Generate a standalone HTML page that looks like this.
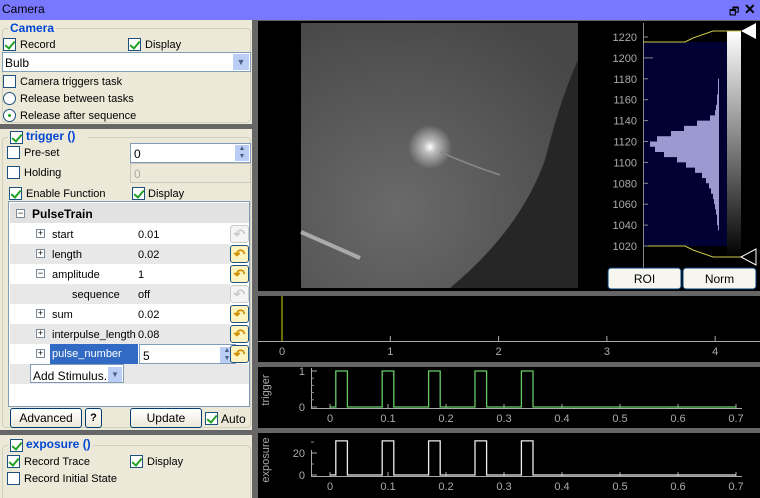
<!DOCTYPE html>
<html><head><meta charset="utf-8">
<style>
*{box-sizing:border-box;margin:0;padding:0}
html,body{width:760px;height:498px;overflow:hidden}
body{background:#ece9d8;font-family:"Liberation Sans",sans-serif;font-size:11px;color:#000;position:relative}
.a{position:absolute}
.cb{position:absolute;width:13px;height:13px;border:1px solid #1c5180;background:#fff}
.cb.on::after{content:"";position:absolute;left:3px;top:0px;width:4px;height:8px;border:solid #21a121;border-width:0 2px 2px 0;transform:rotate(40deg)}
.rd{position:absolute;width:13px;height:13px;border:1px solid #1c5180;border-radius:50%;background:#fff}
.lbl{position:absolute;white-space:nowrap;line-height:13px;margin-top:1px}
.btn{position:absolute;border:1px solid #003c74;border-radius:3px;background:linear-gradient(#fff,#ece9d8);text-align:center;line-height:18px}
.grp{position:absolute;color:#0046d5;font-weight:bold;font-size:12px;background:#ece9d8;padding:0 2px}
.sep{position:absolute;background:#666}
.row{position:absolute;left:10px;width:220px;height:20px}
.row span{margin-top:1px}
.pm{position:absolute;width:9px;height:9px;border:1px solid #7a8a99;background:#fff;font-size:9px;line-height:7px;text-align:center}
.rst{position:absolute;left:230px;width:19px;height:18px;border:1px solid #1c5180;border-radius:3px;background:#fff3c0;color:#d09000;font-size:14px;line-height:16px;text-align:center;font-weight:bold}
.rst.off{color:#ccc;border-color:#ccc;background:#f4f4f4}
</style></head><body>
<div class="a" style="left:0;top:0;width:760px;height:20px;background:#7878ff">
 <span class="a" style="left:2px;top:2px;font-size:12px">Camera</span>
 <span class="a" style="left:729px;top:3px;font-size:11px">🗗</span>
 <span class="a" style="left:744px;top:1px;font-size:14px;font-weight:bold">✕</span>
</div>
<div class="sep" style="left:252px;top:20px;width:6px;height:478px"></div>

<div class="a" style="left:2px;top:28px;width:249px;height:95px;border:1px solid #d0d0bf;border-radius:4px"></div>
<div class="grp" style="left:8px;top:21px">Camera</div>
<div class="cb on" style="left:3px;top:38px"></div><div class="lbl" style="left:20px;top:38px">Record</div>
<div class="cb on" style="left:128px;top:38px"></div><div class="lbl" style="left:145px;top:38px">Display</div>
<div class="a" style="left:2px;top:52px;width:249px;height:20px;border:1px solid #7f9db9;background:#fff"><span class="a" style="left:2px;top:3px;font-size:12px">Bulb</span><span class="a" style="right:1px;top:1px;width:16px;height:16px;background:#b9cdf5;color:#4d6185;text-align:center;font-size:9px;line-height:16px">▼</span></div>
<div class="cb" style="left:3px;top:75px"></div><div class="lbl" style="left:20px;top:75px">Camera triggers task</div>
<div class="rd" style="left:3px;top:92px"></div><div class="lbl" style="left:20px;top:92px">Release between tasks</div>
<div class="rd" style="left:3px;top:109px"><span class="a" style="left:4px;top:4px;width:3px;height:3px;background:#21a121;border-radius:50%"></span></div><div class="lbl" style="left:20px;top:109px">Release after sequence</div>
<div class="sep" style="left:0;top:124px;width:252px;height:5px"></div>

<div class="a" style="left:2px;top:137px;width:249px;height:291px;border:1px solid #d0d0bf;border-radius:4px"></div>
<div class="a" style="left:8px;top:130px;width:80px;height:14px;background:#ece9d8"></div>
<div class="cb on" style="left:10px;top:131px"></div>
<div class="grp" style="left:24px;top:129px">trigger ()</div>
<div class="cb" style="left:7px;top:146px"></div><div class="lbl" style="left:24px;top:146px">Pre-set</div>
<div class="a" style="left:130px;top:143px;width:121px;height:20px;border:1px solid #7f9db9;background:#fff"><span class="a" style="left:3px;top:3px;font-size:12px">0</span><span class="a" style="right:1px;top:1px;width:14px;height:16px;background:#b9cdf5;color:#4d6185;font-size:7px;line-height:8px;text-align:center">▲<br>▼</span></div>
<div class="cb" style="left:7px;top:166px"></div><div class="lbl" style="left:24px;top:166px">Holding</div>
<div class="a" style="left:130px;top:163px;width:121px;height:20px;border:1px solid #c9c7ba;background:#ece9d8"><span class="a" style="left:3px;top:3px;font-size:12px;color:#aaa">0</span></div>
<div class="cb on" style="left:9px;top:187px"></div><div class="lbl" style="left:26px;top:187px">Enable Function</div>
<div class="cb on" style="left:132px;top:187px"></div><div class="lbl" style="left:148px;top:187px">Display</div>

<div class="a" style="left:8px;top:201px;width:242px;height:206px;border:1px solid #7f9db9;background:#fff"></div>
<div class="row" style="top:203px;background:#e2e2e2;width:239px"><div class="pm" style="left:6px;top:6px">−</div><span class="a" style="left:22px;top:3px;font-weight:bold;font-size:12px">PulseTrain</span></div>
<div class="row" style="top:224px;background:#fff"><div class="pm" style="left:26px;top:5px">+</div><span class="a" style="left:42px;top:4px">start</span><span class="a" style="left:128px;top:4px">0.01</span></div>
<div class="row" style="top:244px;background:#e8e8e8"><div class="pm" style="left:26px;top:5px">+</div><span class="a" style="left:42px;top:4px">length</span><span class="a" style="left:128px;top:4px">0.02</span></div>
<div class="row" style="top:264px;background:#fff"><div class="pm" style="left:26px;top:5px">−</div><span class="a" style="left:42px;top:4px">amplitude</span><span class="a" style="left:128px;top:4px">1</span></div>
<div class="row" style="top:284px;background:#e8e8e8"><span class="a" style="left:62px;top:4px">sequence</span><span class="a" style="left:128px;top:4px">off</span></div>
<div class="row" style="top:304px;background:#fff"><div class="pm" style="left:26px;top:5px">+</div><span class="a" style="left:42px;top:4px">sum</span><span class="a" style="left:128px;top:4px">0.02</span></div>
<div class="row" style="top:324px;background:#e8e8e8"><div class="pm" style="left:26px;top:5px">+</div><span class="a" style="left:42px;top:4px">interpulse_length</span><span class="a" style="left:128px;top:4px">0.08</span></div>
<div class="row" style="top:344px;background:#fff"><div class="pm" style="left:26px;top:5px">+</div><span class="a" style="left:40px;top:0;margin-top:0;width:88px;height:20px;background:#316ac5;color:#fff;padding:4px 2px">pulse_number</span><div class="a" style="left:129px;top:0;width:97px;height:20px;border:1px solid #7f9db9;background:#fff"><span class="a" style="left:3px;top:3px;font-size:12px">5</span><span class="a" style="right:1px;top:1px;width:14px;height:16px;background:#b9cdf5;color:#4d6185;font-size:7px;line-height:8px;text-align:center">▲<br>▼</span></div></div>
<div class="row" style="top:364px;background:#e8e8e8;width:239px"><div class="a" style="left:20px;top:0;width:94px;height:19px;border:1px solid #7f9db9;background:#fff"><span class="a" style="left:2px;top:3px;font-size:12px">Add Stimulus..</span><span class="a" style="right:1px;top:1px;width:14px;height:15px;background:#b9cdf5;color:#4d6185;font-size:8px;line-height:15px;text-align:center">▼</span></div></div>
<div class="rst off" style="top:225px">↶</div>
<div class="rst" style="top:245px">↶</div>
<div class="rst" style="top:265px">↶</div>
<div class="rst off" style="top:285px">↶</div>
<div class="rst" style="top:305px">↶</div>
<div class="rst" style="top:325px">↶</div>
<div class="rst" style="top:345px">↶</div>
<div class="btn" style="left:10px;top:408px;width:72px;height:20px;font-size:12px">Advanced</div>
<div class="btn" style="left:85px;top:408px;width:17px;height:20px;font-weight:bold">?</div>
<div class="btn" style="left:130px;top:408px;width:72px;height:20px;font-size:12px">Update</div>
<div class="cb on" style="left:205px;top:412px"></div><div class="lbl" style="left:221px;top:412px;font-size:12px">Auto</div>
<div class="sep" style="left:0;top:430px;width:252px;height:5px"></div>

<div class="a" style="left:2px;top:445px;width:249px;height:60px;border:1px solid #d0d0bf;border-radius:4px"></div>
<div class="a" style="left:8px;top:438px;width:85px;height:14px;background:#ece9d8"></div>
<div class="cb on" style="left:10px;top:439px"></div>
<div class="grp" style="left:24px;top:437px">exposure ()</div>
<div class="cb on" style="left:7px;top:455px"></div><div class="lbl" style="left:24px;top:455px">Record Trace</div>
<div class="cb on" style="left:130px;top:455px"></div><div class="lbl" style="left:147px;top:455px">Display</div>
<div class="cb" style="left:7px;top:472px"></div><div class="lbl" style="left:24px;top:472px">Record Initial State</div>

<svg class="a" style="left:258px;top:20px" width="502" height="478" viewBox="258 20 502 478" id="rs" font-family="Liberation Sans, sans-serif">
 <defs>
  <radialGradient id="ig" cx="0.35" cy="0.7" r="0.8"><stop offset="0" stop-color="#6a6a6a"/><stop offset="1" stop-color="#474747"/></radialGradient>
  <radialGradient id="star" cx="0.5" cy="0.5" r="0.5"><stop offset="0" stop-color="#fff"/><stop offset="0.3" stop-color="#bbb"/><stop offset="1" stop-color="#bbb" stop-opacity="0"/></radialGradient>
  <linearGradient id="cb" x1="0" y1="0" x2="0" y2="1"><stop offset="0" stop-color="#fff"/><stop offset="1" stop-color="#000"/></linearGradient>
 </defs>
 <rect x="258" y="20" width="502" height="478" fill="#666"/>
 <rect x="258" y="21" width="502" height="270" fill="#000"/>
 <g>
  <rect x="301" y="23" width="277" height="265" fill="url(#ig)"/>
  <path d="M578 23 L578 288 L450 288 Q520 230 545 160 Q560 100 578 60 Z" fill="#262626"/>
  <circle cx="430" cy="147" r="22" fill="url(#star)"/>
  <path d="M440 152 Q470 165 500 175" stroke="#888" stroke-width="1.5" fill="none"/>
  <path d="M301 232 L360 258" stroke="#aaa" stroke-width="4"/>
 </g>
 <rect x="643" y="42" width="84" height="204" fill="#000033"/>
 <line x1="643.5" y1="23" x2="643.5" y2="268" stroke="#888"/>
 <g id="hticks" fill="#aaa" font-size="11" text-anchor="end"></g>
 <path id="hist" fill="#9a9ad0"/>
 <rect x="727" y="31" width="14" height="227" fill="url(#cb)"/>
 <polyline points="643,42 685,42 693,38 713,31 741,31" fill="none" stroke="#cc4"/>
 <polyline points="643,246 685,246 693,250 713,257 741,257" fill="none" stroke="#cc4"/>
 <polygon points="741,31 756,23 756,39" fill="#fff"/>
 <polygon points="741,257 756,249 756,265" fill="none" stroke="#fff"/>
 <rect x="608" y="268" width="73" height="21" rx="3" fill="#f6f5ee" stroke="#003c74"/>
 <text x="644.5" y="283" text-anchor="middle" font-size="12">ROI</text>
 <rect x="683" y="268" width="73" height="21" rx="3" fill="#f6f5ee" stroke="#003c74"/>
 <text x="719.5" y="283" text-anchor="middle" font-size="12">Norm</text>

 <rect x="258" y="296" width="502" height="66" fill="#000"/>
 <rect x="258" y="367" width="502" height="61" fill="#000"/>
 <rect x="258" y="433" width="502" height="65" fill="#000"/>
 <g id="p1"></g><g id="p2"></g><g id="p3"></g>
 <text transform="translate(269,390) rotate(-90)" text-anchor="middle" fill="#aaa" font-size="11">trigger</text>
 <text transform="translate(269,460) rotate(-90)" text-anchor="middle" fill="#aaa" font-size="11">exposure</text>
</svg>
<script>
const histBins=[1035,1040,1045,1050,1055,1060,1065,1070,1075,1080,1085,1090,1095,1100,1105,1110,1115,1120,1125,1130,1135,1140,1145,1150,1155,1160,1165,1170,1175];
const histCounts=[1,2,2,3,4,5,6,8,10,13,17,24,33,42,55,64,69,62,48,35,22,9,4,3,2,2,1,1,1];
const histTicks=[1020,1040,1060,1080,1100,1120,1140,1160,1180,1200,1220];
const timeTicks=[0,1,2,3,4];
const markerTime=[0];
const stepTimes=[0,0.01,0.01,0.03,0.03,0.09,0.09,0.11,0.11,0.17,0.17,0.19,0.19,0.25,0.25,0.27,0.27,0.33,0.33,0.35,0.35,0.7];
const triggerVals=[0,0,1,1,0,0,1,1,0,0,1,1,0,0,1,1,0,0,1,1,0,0];
const exposureVals=[0,0,31,31,0,0,31,31,0,0,31,31,0,0,31,31,0,0,31,31,0,0];
const xTicks=[0,0.1,0.2,0.3,0.4,0.5,0.6,0.7];
const trigYTicks=[0,1];
const expYTicks=[0,20];
const NS='http://www.w3.org/2000/svg';
function mk(p,t,a){const e=document.createElementNS(NS,t);for(const k in a)e.setAttribute(k,a[k]);p.appendChild(e);return e;}
const hy=v=>246-(v-1020)*(209/200);
const hx=c=>719-c;
const hg=document.getElementById('hticks');
histTicks.forEach(t=>{const tx=mk(hg,'text',{x:637,y:hy(t)+4});tx.textContent=t;


mk(document.getElementById('rs'),'line',{x1:643,x2:t===1200?653:648,y1:hy(t),y2:hy(t),stroke:'#888'});});
let d='M719 '+hy(histBins[0]);
histBins.forEach((b,i)=>{d+=' L'+hx(histCounts[i])+' '+hy(b)+' L'+hx(histCounts[i])+' '+hy(b+5);});
d+=' L719 '+hy(histBins[histBins.length-1]+5)+' Z';
document.getElementById('hist').setAttribute('d',d);
const p1=document.getElementById('p1');
const tx1=v=>282+v*108.3;
mk(p1,'line',{x1:258,x2:760,y1:341.5,y2:341.5,stroke:'#aaa'});
timeTicks.forEach(t=>{mk(p1,'line',{x1:tx1(t),x2:tx1(t),y1:336,y2:341,stroke:'#aaa'});
const tt=mk(p1,'text',{x:tx1(t),y:355,fill:'#aaa','font-size':11,'text-anchor':'middle'});tt.textContent=t;

});
markerTime.forEach(t=>{const l=mk(p1,'line',{x1:tx1(t),x2:tx1(t),y1:296,y2:341,stroke:'#dd0'});

});
const px=v=>330+v*580;
function stepPlot(g,vals,ymin,ymax,y0px,y1px,ticks,color,name,minor){
 const py=v=>y0px+(v-ymin)*(y1px-y0px)/(ymax-ymin);
 mk(g,'line',{x1:311.5,x2:311.5,y1:y1px-3,y2:y0px+1,stroke:'#aaa'});
 mk(g,'line',{x1:311,x2:742,y1:y0px+1.5,y2:y0px+1.5,stroke:'#aaa'});
 minor.forEach(m=>mk(g,'line',{x1:311,x2:314,y1:py(m),y2:py(m),stroke:'#888'}));
 ticks.forEach(t=>{mk(g,'line',{x1:311,x2:317,y1:py(t),y2:py(t),stroke:'#aaa'});
  const tt=mk(g,'text',{x:305,y:py(t)+4,fill:'#aaa','font-size':11,'text-anchor':'end'});tt.textContent=t;
  
  });
 xTicks.forEach(t=>{mk(g,'line',{x1:px(t),x2:px(t),y1:y0px-3,y2:y0px+1,stroke:'#aaa'});
  const tt=mk(g,'text',{x:px(t),y:y0px+15,fill:'#aaa','font-size':11,'text-anchor':'middle'});tt.textContent=t;
  
  });
 const pts=stepTimes.map((t,i)=>px(t)+','+py(vals[i])).join(' ');
 const pl=mk(g,'polyline',{points:pts,fill:'none',stroke:color,'stroke-width':1.3});
 
 
}
stepPlot(document.getElementById('p2'),triggerVals,0,1,407,371,trigYTicks,'#6c6','trigger',[0.2,0.4,0.6,0.8]);
stepPlot(document.getElementById('p3'),exposureVals,0,20,475,453,expYTicks,'#eee','exposure',[10,30]);
</script>
</body></html>
